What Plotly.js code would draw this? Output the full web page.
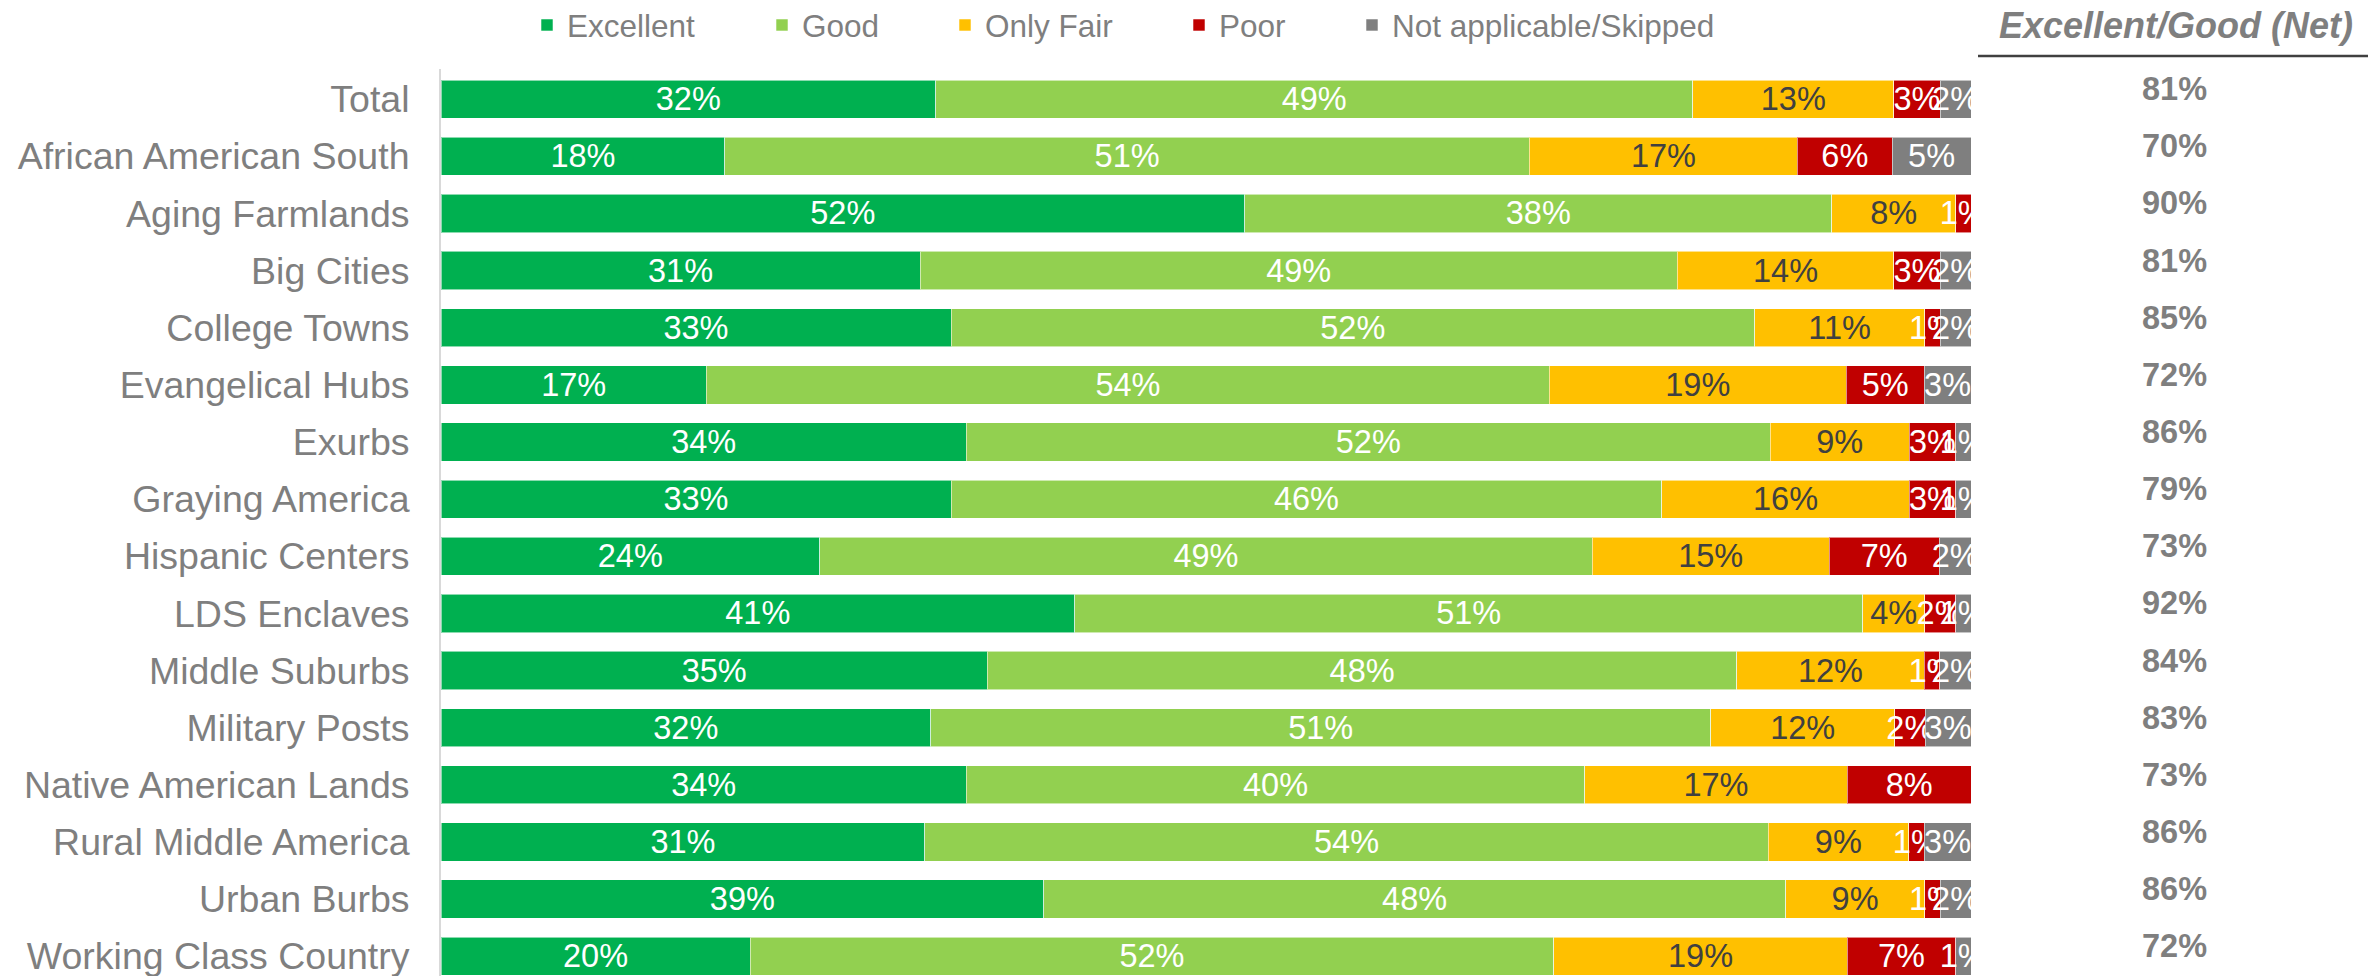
<!DOCTYPE html>
<html>
<head>
<meta charset="utf-8">
<script src="https://cdn.plot.ly/plotly-3.0.1.min.js"></script>
<style>html,body{margin:0;padding:0;background:#fff;}#chart{width:2374px;height:976px;}</style>
</head>
<body>
<div id="chart"></div>
<script>
const categories = ['Total','African American South','Aging Farmlands','Big Cities','College Towns','Evangelical Hubs','Exurbs','Graying America','Hispanic Centers','LDS Enclaves','Middle Suburbs','Military Posts','Native American Lands','Rural Middle America','Urban Burbs','Working Class Country'];
const excellent     = [32,18,52,31,33,17,34,33,24,41,35,32,34,31,39,20];
const good          = [49,51,38,49,52,54,52,46,49,51,48,51,40,54,48,52];
const onlyFair      = [13,17, 8,14,11,19, 9,16,15, 4,12,12,17, 9, 9,19];
const poor          = [ 3, 6, 1, 3, 1, 5, 3, 3, 7, 2, 1, 2, 8, 1, 1, 7];
const notApplicable = [ 2, 5, 0, 2, 2, 3, 1, 1, 2, 1, 2, 3, 0, 3, 2, 1];
const netExcellentGood = [81,70,90,81,85,72,86,79,73,92,84,83,73,86,86,72];
const seriesNames = ['Excellent','Good','Only Fair','Poor','Not applicable/Skipped'];
const netHeader = 'Excellent/Good (Net)';

const FONT = '"Liberation Sans", Arial, sans-serif';
const seriesValues = [excellent, good, onlyFair, poor, notApplicable];
const colors = ['#00B050','#92D050','#FFC000','#C00000','#7F7F7F'];
const textColors = ['#FFFFFF','#FFFFFF','#404040','#FFFFFF','#FFFFFF'];
const legendIds = ['legend','legend2','legend3','legend4','legend5'];
const legendLeft = [527, 762, 945, 1179, 1352];

const traces = seriesValues.map((vals, i) => ({
  type: 'bar',
  orientation: 'h',
  name: seriesNames[i],
  y: categories,
  x: vals,
  text: vals.map(v => v > 0 ? v + '%' : ''),
  textposition: 'inside',
  insidetextanchor: 'middle',
  textangle: 0,
  constraintext: 'none',
  insidetextfont: {family: FONT, size: 32.5, color: textColors[i]},
  marker: {color: colors[i], line: {width: 1, color: 'rgba(255,255,255,0.55)'}},
  hoverinfo: 'skip',
  legend: legendIds[i],
  cliponaxis: false
}));

const layout = {
  width: 2374, height: 976,
  margin: {l: 441, r: 403, t: 69, b: 0, pad: 0},
  paper_bgcolor: '#ffffff', plot_bgcolor: '#ffffff',
  barmode: 'stack',
  barnorm: 'percent',
  bargap: 0.33,
  font: {family: FONT, color: '#7f7f7f'},
  uniformtext: {mode: 'show', minsize: 32.5},
  xaxis: {range: [0, 100.0001], visible: false, fixedrange: true},
  yaxis: {
    type: 'category', autorange: false, range: [15.347, -0.529],
    showline: true, linecolor: '#d9d9d9', linewidth: 2,
    showgrid: false, zeroline: false, ticks: '',
    ticklabelstandoff: 22,
    tickfont: {family: FONT, size: 37.5, color: '#7f7f7f'}
  },
  annotations: [],
  shapes: [{
    type: 'line', xref: 'paper', yref: 'paper',
    x0: (1978 - 441) / 1530, x1: (2368 - 441) / 1530, y0: 1 + 13/907, y1: 1 + 13/907,
    line: {color: '#404040', width: 2.5}
  }],
  showlegend: true
};

legendIds.forEach((id, i) => {
  layout[id] = {
    orientation: 'h', xref: 'container', yref: 'container',
    x: legendLeft[i] / 2374, y: 1 - 25/976, xanchor: 'left', yanchor: 'middle',
    font: {family: FONT, size: 31.5, color: '#7f7f7f'},
    bgcolor: 'rgba(0,0,0,0)', borderwidth: 0, itemclick: false, itemdoubleclick: false
  };
});

layout.annotations.push({
  xref: 'paper', yref: 'paper', x: (2176 - 441) / 1530, y: 1 + 44/907,
  text: '<b><i>' + netHeader + '</i></b>', showarrow: false,
  xanchor: 'center', yanchor: 'middle',
  font: {family: FONT, size: 36, color: '#7f7f7f'}
});
categories.forEach((c, i) => {
  layout.annotations.push({
    xref: 'paper', yref: 'y', x: (2174 - 441) / 1530, y: c,
    text: '<b>' + netExcellentGood[i] + '%</b>', showarrow: false,
    xanchor: 'center', yanchor: 'middle', yshift: 10,
    font: {family: FONT, size: 32.5, color: '#7f7f7f'}
  });
});

Plotly.newPlot('chart', traces, layout, {staticPlot: true, displayModeBar: false});
</script>
</body>
</html>
